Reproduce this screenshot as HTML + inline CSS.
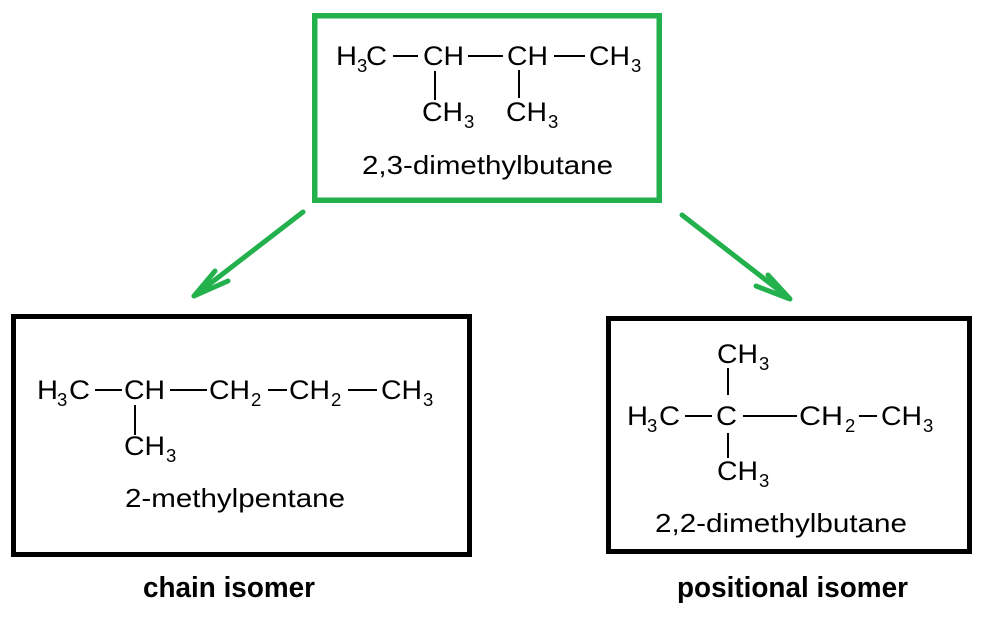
<!DOCTYPE html>
<html>
<head>
<meta charset="utf-8">
<style>
  html, body { margin:0; padding:0; background:#ffffff; }
  svg { display:block; }
  text { font-family: "Liberation Sans", Arial, sans-serif; fill:#000; }
  .f { font-size:27px; }
  .s { font-size:18.5px; }
  .n { font-size:26px; }
  .b { font-weight:bold; font-size:29px; }
</style>
</head>
<body>
<svg width="988" height="617" viewBox="0 0 988 617" xmlns="http://www.w3.org/2000/svg">
  <rect x="0" y="0" width="988" height="617" fill="#ffffff"/>

  <!-- Boxes -->
  <rect x="314.75" y="15.75" width="344.5" height="184.5" fill="none" stroke="#22b14c" stroke-width="5.5"/>
  <rect x="13.5" y="316.5" width="456" height="238" fill="none" stroke="#000" stroke-width="5"/>
  <rect x="608.5" y="318.5" width="361" height="233" fill="none" stroke="#000" stroke-width="5"/>

  <!-- Arrows -->
  <g stroke="#22b14c" stroke-width="5" stroke-linecap="round" stroke-linejoin="round" fill="none">
    <line x1="303" y1="212" x2="194" y2="296"/>
    <polyline points="215,271 194,296 228,281"/>
    <line x1="682" y1="215" x2="789" y2="298"/>
    <polyline points="768,275 790,299 756,286"/>
  </g>

  <!-- Bonds -->
  <g stroke="#000" stroke-width="2" fill="none">
    <!-- top -->
    <line x1="393" y1="56" x2="418" y2="56"/>
    <line x1="468" y1="56" x2="503" y2="56"/>
    <line x1="554" y1="56" x2="585" y2="56"/>
    <line x1="435" y1="71" x2="435" y2="100"/>
    <line x1="519" y1="70" x2="519" y2="98"/>
    <!-- left -->
    <line x1="95" y1="390" x2="122" y2="390"/>
    <line x1="170" y1="390" x2="207" y2="390"/>
    <line x1="268" y1="390" x2="287" y2="390"/>
    <line x1="348" y1="390" x2="377" y2="390"/>
    <line x1="135" y1="405" x2="135" y2="435"/>
    <!-- right -->
    <line x1="728" y1="368" x2="728" y2="395"/>
    <line x1="685" y1="416" x2="712" y2="416"/>
    <line x1="743" y1="416" x2="797" y2="416"/>
    <line x1="859" y1="416" x2="877" y2="416"/>
    <line x1="728" y1="433" x2="728" y2="458"/>
  </g>

  <!-- Top molecule -->
  <text class="f" x="336" y="65" textLength="21" lengthAdjust="spacingAndGlyphs">H</text>
  <text class="s" x="357" y="72">3</text>
  <text class="f" x="366" y="65" textLength="21" lengthAdjust="spacingAndGlyphs">C</text>
  <text class="f" x="423" y="65" textLength="41" lengthAdjust="spacingAndGlyphs">CH</text>
  <text class="f" x="507" y="65" textLength="41" lengthAdjust="spacingAndGlyphs">CH</text>
  <text class="f" x="589" y="65" textLength="41" lengthAdjust="spacingAndGlyphs">CH</text>
  <text class="s" x="631" y="72">3</text>
  <text class="f" x="422" y="121" textLength="41" lengthAdjust="spacingAndGlyphs">CH</text>
  <text class="s" x="464" y="128">3</text>
  <text class="f" x="506" y="121" textLength="41" lengthAdjust="spacingAndGlyphs">CH</text>
  <text class="s" x="548" y="128">3</text>
  <text class="n" x="362" y="174" textLength="251" lengthAdjust="spacingAndGlyphs">2,3-dimethylbutane</text>

  <!-- Left molecule -->
  <text class="f" x="37" y="399" textLength="21" lengthAdjust="spacingAndGlyphs">H</text>
  <text class="s" x="57" y="406">3</text>
  <text class="f" x="69" y="399" textLength="21" lengthAdjust="spacingAndGlyphs">C</text>
  <text class="f" x="124" y="399" textLength="41" lengthAdjust="spacingAndGlyphs">CH</text>
  <text class="f" x="209" y="399" textLength="41" lengthAdjust="spacingAndGlyphs">CH</text>
  <text class="s" x="251" y="406">2</text>
  <text class="f" x="289" y="399" textLength="41" lengthAdjust="spacingAndGlyphs">CH</text>
  <text class="s" x="331" y="406">2</text>
  <text class="f" x="381" y="399" textLength="41" lengthAdjust="spacingAndGlyphs">CH</text>
  <text class="s" x="423" y="406">3</text>
  <text class="f" x="124" y="455" textLength="41" lengthAdjust="spacingAndGlyphs">CH</text>
  <text class="s" x="166" y="462">3</text>
  <text class="n" x="125" y="507" textLength="220" lengthAdjust="spacingAndGlyphs">2-methylpentane</text>

  <!-- Right molecule -->
  <text class="f" x="717" y="363" textLength="41" lengthAdjust="spacingAndGlyphs">CH</text>
  <text class="s" x="759" y="370">3</text>
  <text class="f" x="627" y="425" textLength="21" lengthAdjust="spacingAndGlyphs">H</text>
  <text class="s" x="647" y="432">3</text>
  <text class="f" x="659" y="425" textLength="21" lengthAdjust="spacingAndGlyphs">C</text>
  <text class="f" x="716" y="425" textLength="21" lengthAdjust="spacingAndGlyphs">C</text>
  <text class="f" x="799" y="425" textLength="44" lengthAdjust="spacingAndGlyphs">CH</text>
  <text class="s" x="845" y="432">2</text>
  <text class="f" x="881" y="425" textLength="41" lengthAdjust="spacingAndGlyphs">CH</text>
  <text class="s" x="923" y="432">3</text>
  <text class="f" x="717" y="480" textLength="41" lengthAdjust="spacingAndGlyphs">CH</text>
  <text class="s" x="759" y="487">3</text>
  <text class="n" x="655" y="532" textLength="252" lengthAdjust="spacingAndGlyphs">2,2-dimethylbutane</text>

  <!-- Labels -->
  <text class="b" x="143" y="597" textLength="172" lengthAdjust="spacingAndGlyphs">chain isomer</text>
  <text class="b" x="677" y="597" textLength="231" lengthAdjust="spacingAndGlyphs">positional isomer</text>
</svg>
</body>
</html>
